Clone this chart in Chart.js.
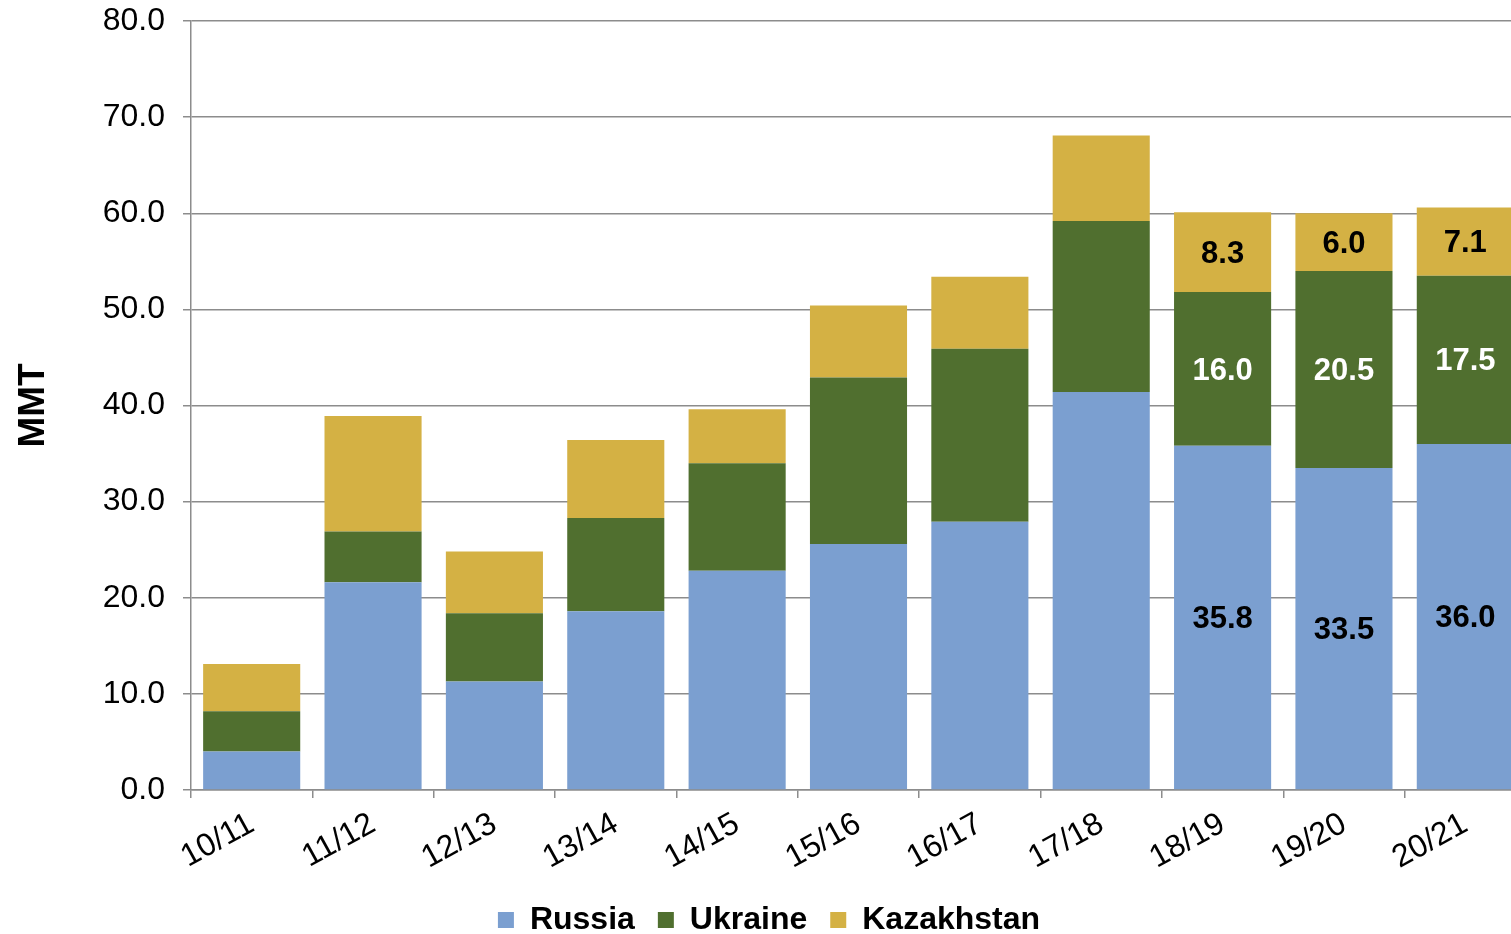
<!DOCTYPE html>
<html>
<head>
<meta charset="utf-8">
<script src="https://cdn.jsdelivr.net/npm/chart.js@4"></script>
<style>
html,body{margin:0;padding:0;background:#fff;overflow:hidden;}
#wrap{width:1527px;height:934px;position:relative;}
</style>
</head>
<body>
<div id="wrap"><canvas id="c"></canvas></div>
<script>
const categories = ['10/11','11/12','12/13','13/14','14/15','15/16','16/17','17/18','18/19','19/20','20/21'];
const russia     = [4.0, 21.6, 11.3, 18.6, 22.8, 25.6, 27.9, 41.4, 35.8, 33.5, 36.0];
const ukraine    = [4.2,  5.3,  7.1,  9.7, 11.2, 17.3, 18.0, 17.8, 16.0, 20.5, 17.5];
const kazakhstan = [4.9, 12.0,  6.4,  8.1,  5.6,  7.5,  7.5,  8.9,  8.3,  6.0,  7.1];
const yTicks = [0, 10, 20, 30, 40, 50, 60, 70, 80];
const labelledFrom = 8;

const FONT = '"Liberation Sans", Arial, sans-serif';
const labelColors = ['#000000', '#ffffff', '#000000'];

const valueLabels = {
  id: 'valueLabels',
  afterDatasetsDraw(chart) {
    const ctx = chart.ctx;
    ctx.save();
    ctx.font = 'bold 31px ' + FONT;
    ctx.textAlign = 'center';
    ctx.textBaseline = 'middle';
    chart.data.datasets.forEach((ds, di) => {
      const meta = chart.getDatasetMeta(di);
      meta.data.forEach((el, i) => {
        if (i < labelledFrom) return;
        const p = el.getProps(['x', 'y', 'base'], true);
        ctx.fillStyle = labelColors[di];
        ctx.fillText(ds.data[i].toFixed(1), p.x, (p.y + p.base) / 2 + 2);
      });
    });
    ctx.restore();
  }
};

new Chart(document.getElementById('c'), {
  type: 'bar',
  data: {
    labels: categories,
    datasets: [
      { label: 'Russia', data: russia, backgroundColor: '#7B9FD0' },
      { label: 'Ukraine', data: ukraine, backgroundColor: '#506F2F' },
      { label: 'Kazakhstan', data: kazakhstan, backgroundColor: '#D4B144' }
    ]
  },
  options: {
    responsive: true,
    maintainAspectRatio: false,
    animation: false,
    datasets: { bar: { barPercentage: 0.8, categoryPercentage: 1.0 } },
    layout: { padding: { left: 12, right: 1, top: 21, bottom: -12 } },
    plugins: {
      tooltip: { enabled: false },
      legend: {
        position: 'bottom',
        labels: {
          font: { family: FONT, size: 32, weight: 'bold' },
          color: '#000',
          boxWidth: 16,
          boxHeight: 16,
          padding: 23
        }
      }
    },
    scales: {
      x: {
        stacked: true,
        clip: false,
        grid: { display: true, drawOnChartArea: false, drawTicks: true, tickLength: 8, color: '#8c8c8c', lineWidth: 1.5, offset: true },
        border: { display: true, color: '#8c8c8c', width: 1.5 },
        ticks: {
          font: { family: FONT, size: 32 },
          color: '#000',
          minRotation: 29,
          maxRotation: 29,
          padding: 7,
          autoSkip: false
        },
        afterFit(s) { s.height = 91; }
      },
      y: {
        stacked: true,
        min: 0,
        max: 80,
        afterBuildTicks(s) { s.ticks = yTicks.map(v => ({ value: v })); },
        grid: { color: '#8c8c8c', lineWidth: 1.5, tickLength: 8, drawTicks: true },
        border: { display: true, color: '#8c8c8c', width: 1.5 },
        ticks: {
          font: { family: FONT, size: 32 },
          color: '#000',
          padding: 18,
          callback: v => Number(v).toFixed(1)
        },
        title: {
          display: true,
          text: 'MMT',
          font: { family: FONT, size: 37, weight: 'bold' },
          color: '#000',
          padding: { top: 0, bottom: 0 }
        },
        afterFit(s) { s.width = 179; s.paddingTop = 0; s.paddingBottom = 0; }
      }
    }
  },
  plugins: [valueLabels]
});
</script>
</body>
</html>
